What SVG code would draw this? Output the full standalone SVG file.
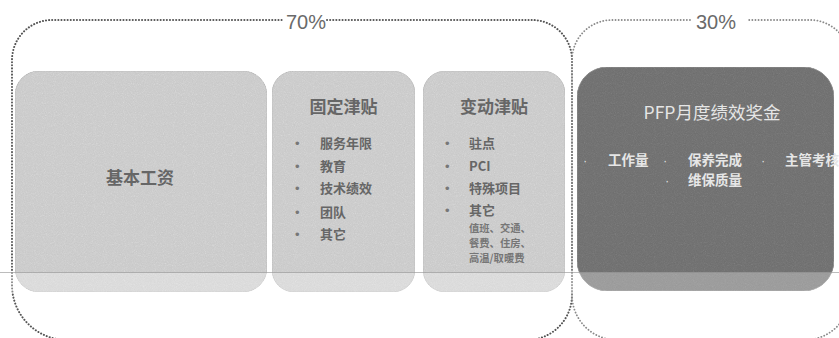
<svg xmlns="http://www.w3.org/2000/svg" width="839" height="338" viewBox="0 0 839 338">
<style>
.frame70{fill:none;stroke:#555;stroke-width:2;stroke-dasharray:0.1 3;stroke-linecap:round}
.frame30{fill:none;stroke:#8a8a8a;stroke-width:1.8;stroke-dasharray:0.1 3;stroke-linecap:round}
.pct{font-family:"Liberation Sans",Arial,sans-serif;font-size:20px;fill:#6a6a6a;text-anchor:middle}
.light{fill:#d4d4d4;stroke:#c6c6c6;stroke-width:1}
.dark{fill:#7a7a7a;stroke:#939393;stroke-width:1}
.t{font-family:"Noto Sans CJK SC","Noto Sans",sans-serif;fill:#666;font-weight:bold}
.title{font-size:17px;text-anchor:middle}
.item{font-size:13px}
.sub{font-size:10.3px;fill:#767676}
.bul{font-size:13px;fill:#777}
.w{font-family:"Noto Sans CJK SC","Noto Sans",sans-serif;fill:#e6e6e6}
</style>
<defs>
<filter id="grain" x="0" y="0" width="100%" height="100%" color-interpolation-filters="sRGB">
<feTurbulence type="fractalNoise" baseFrequency="0.9" numOctaves="1" seed="4" result="t"/>
<feColorMatrix in="t" type="saturate" values="0" result="g"/>
<feComposite in="g" in2="SourceGraphic" operator="arithmetic" k1="0" k2="0.16" k3="1" k4="-0.07" result="m"/>
<feComposite in="m" in2="SourceGraphic" operator="in"/>
</filter>
</defs>
<rect width="839" height="338" fill="#fff"/>
<g id="frames">
<path class="frame70" d="M327,20 L532,20 A40,40 0 0 1 572,60 L572,295 A45,45 0 0 1 527,340 L67,340 A55,55 0 0 1 12,285 L12,60 A40,40 0 0 1 52,20 L283,20"/>
<path class="frame30" d="M690,20 L612,20 A40,40 0 0 0 572,60 L572,295 A45,45 0 0 0 617,340 L805,340 A45,45 0 0 0 850,295 L850,60 A40,40 0 0 0 810,20 L748,20"/>
<text class="pct" x="306" y="29">70%</text>
<text class="pct" x="716" y="29">30%</text>
</g>
<g id="base">
<rect class="light" x="15" y="71" width="252" height="221" rx="24" filter="url(#grain)"/>
<text class="t title" x="140" y="184">基本工资</text>
</g>
<g id="fixed">
<rect class="light" x="272" y="71" width="143" height="221" rx="22" filter="url(#grain)"/>
<text class="t title" x="343.5" y="113">固定津贴</text>
<g class="t item">
<text x="320" y="148">服务年限</text>
<text x="320" y="171">教育</text>
<text x="320" y="193">技术绩效</text>
<text x="320" y="217">团队</text>
<text x="320" y="239">其它</text>
</g>
<g class="bul" font-family="Liberation Sans,sans-serif">
<text x="295" y="148">•</text>
<text x="295" y="171">•</text>
<text x="295" y="193">•</text>
<text x="295" y="217">•</text>
<text x="295" y="239">•</text>
</g>
</g>
<g id="variable">
<rect class="light" x="423" y="71" width="142" height="221" rx="22" filter="url(#grain)"/>
<text class="t title" x="494" y="113">变动津贴</text>
<g class="t item">
<text x="469" y="148">驻点</text>
<text x="469" y="171">PCI</text>
<text x="469" y="193">特殊项目</text>
<text x="469" y="215">其它</text>
</g>
<text class="t sub" x="469" y="232">值班、交通、</text>
<text class="t sub" x="469" y="247">餐费、住房、</text>
<text class="t sub" x="469" y="262">高温/取暖费</text>
<g class="bul" font-family="Liberation Sans,sans-serif">
<text x="445" y="148">•</text>
<text x="445" y="171">•</text>
<text x="445" y="193">•</text>
<text x="445" y="215">•</text>
</g>
</g>
<g id="pfp">
<rect class="dark" x="577" y="67" width="257" height="224" rx="30" filter="url(#grain)"/>
<text class="w" x="712" y="119" font-size="17.5" text-anchor="middle">PFP月度绩效奖金</text>
<g class="w" font-size="13.5" font-weight="bold">
<text x="608" y="165">工作量</text>
<text x="688" y="165">保养完成</text>
<text x="785" y="165">主管考核</text>
<text x="688" y="185">维保质量</text>
</g>
<g fill="#dcdcdc" font-family="Liberation Sans,sans-serif" font-size="13">
<text x="583" y="165">·</text>
<text x="663" y="165">·</text>
<text x="761" y="165">·</text>
<text x="665" y="185">·</text>
</g>
</g>
<g id="scan">
<rect x="0" y="273" width="839" height="20" fill="#fff" opacity="0.3"/>
<line x1="0" y1="272.5" x2="839" y2="272.5" stroke="#a0a0a0" stroke-width="1" opacity="0.7"/>
</g>
</svg>
